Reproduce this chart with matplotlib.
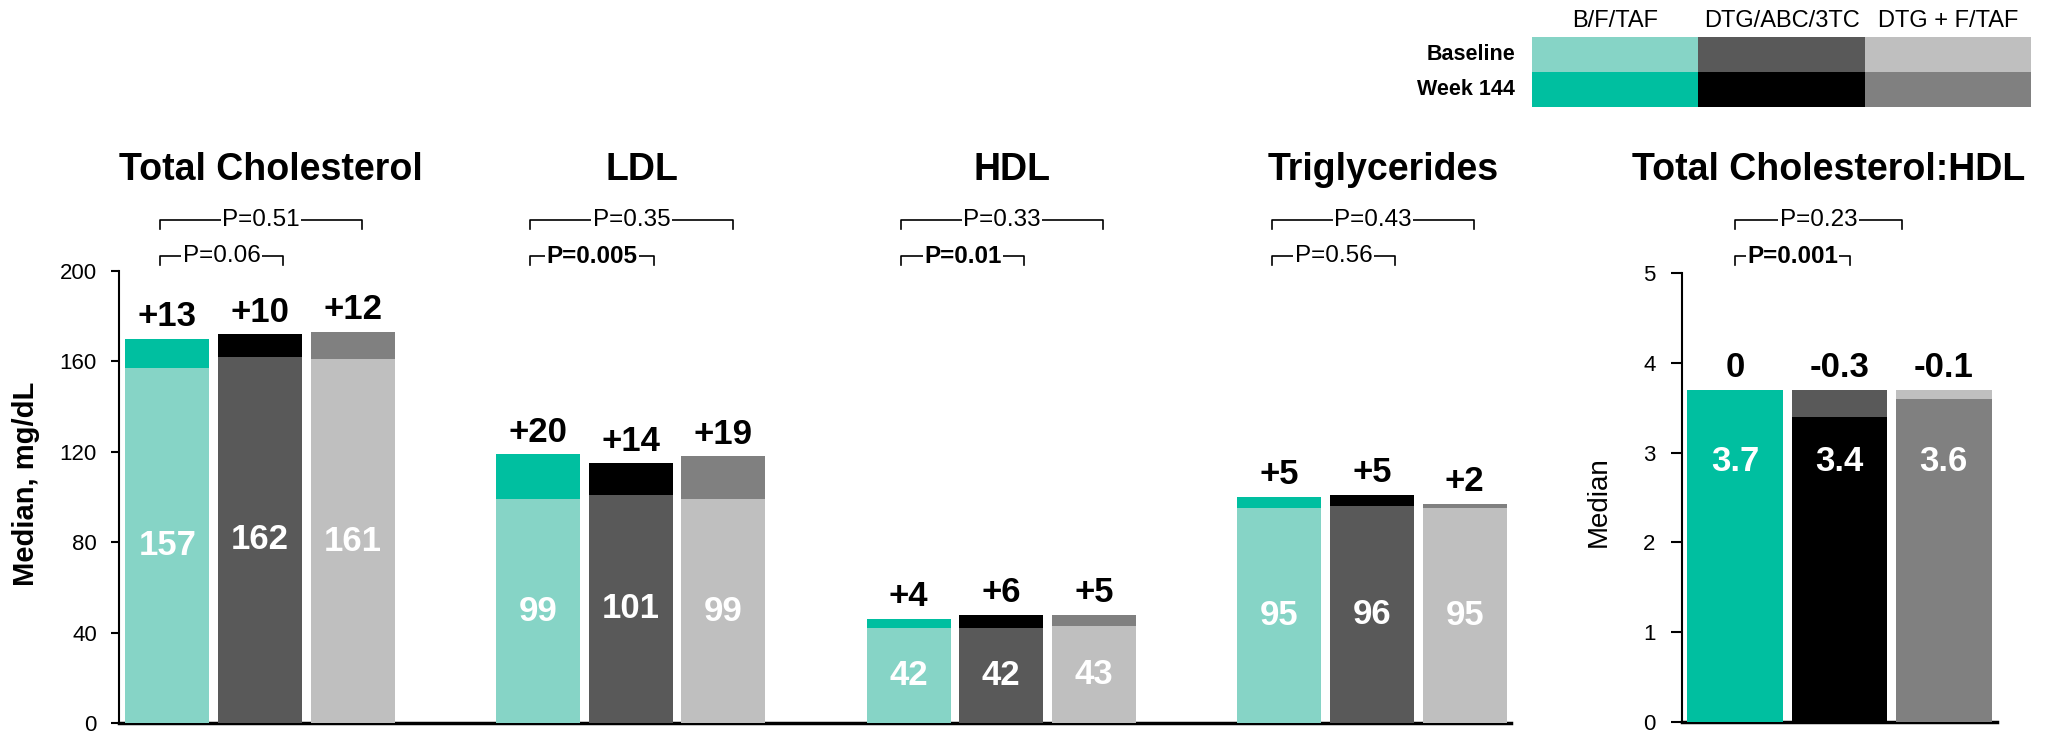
import numpy as np
import matplotlib
matplotlib.use("Agg")
import matplotlib.pyplot as plt
from matplotlib.patches import Rectangle
from matplotlib import transforms

plt.rcParams['font.family'] = ['Liberation Sans', 'DejaVu Sans']

# Data
regimens = ["B/F/TAF", "DTG/ABC/3TC", "DTG + F/TAF"]
rows = ["Baseline", "Week 144"]
base_colors = ["#86D4C6", "#595959", "#BFBFBF"]
wk_colors = ["#00BFA0", "#000000", "#808080"]

lipids = ["Total Cholesterol", "LDL", "HDL", "Triglycerides"]
baseline = [[157, 162, 161], [99, 101, 99], [42, 42, 43], [95, 96, 95]]
change = [[13, 10, 12], [20, 14, 19], [4, 6, 5], [5, 5, 2]]
p_wide = ["P=0.51", "P=0.35", "P=0.33", "P=0.43"]
p_narrow = ["P=0.06", "P=0.005", "P=0.01", "P=0.56"]
p_narrow_bold = [False, True, True, False]

ratio_title = "Total Cholesterol:HDL"
ratio_baseline = [3.7, 3.7, 3.7]
ratio_change = [0, -0.3, -0.1]
ratio_p_wide = "P=0.23"
ratio_p_narrow = "P=0.001"
ratio_p_narrow_bold = True

fig = plt.figure(figsize=(20.48, 7.33), dpi=100)
ax = fig.add_axes([119 / 2048, 10 / 733, 1392 / 2048, 452 / 733])
ax2 = fig.add_axes([1682 / 2048, 11 / 733, 315 / 2048, 449 / 733])

Y_TITLE = 1 - 170 / 733
Y_WIDE = 1 - 220 / 733
Y_NARROW = 1 - 256 / 733
TICK = 9 / 733


def draw_bars(a, xs, base, wk, width):
    for x, b, w, cb, cw in zip(xs, base, wk, base_colors, wk_colors):
        wk_on_top = w <= b
        a.bar(x, b, width, color=cb, zorder=2 if wk_on_top else 3)
        a.bar(x, w, width, color=cw, zorder=3 if wk_on_top else 2)


def top_label(a, x, y, txt):
    a.annotate(txt, (x, y), xytext=(0, 4), textcoords='offset points',
               ha='center', va='bottom', fontsize=25, fontweight='bold')


def bracket(a, x0, x1, yfig, text, bold):
    tr = transforms.blended_transform_factory(a.transData, fig.transFigure)
    a.plot([x0, x0, x1, x1], [yfig - TICK, yfig, yfig, yfig - TICK],
           transform=tr, color='black', lw=1.2, clip_on=False)
    a.text((x0 + x1) / 2, yfig, text, transform=tr, ha='center', va='center',
           fontsize=17.5, fontweight='bold' if bold else 'normal',
           bbox=dict(facecolor='white', edgecolor='none', pad=1), clip_on=False)


# Left panel: lipids in mg/dL
for g, name in enumerate(lipids):
    xs = np.array([-1, 0, 1]) + 4 * g
    base = baseline[g]
    wk = [b + c for b, c in zip(base, change[g])]
    draw_bars(ax, xs, base, wk, 0.906)
    for x, b, w, c in zip(xs, base, wk, change[g]):
        top_label(ax, x, max(b, w), f"+{c}" if c > 0 else str(c))
        ax.text(x, b / 2, str(b), color='white', fontsize=25, fontweight='bold',
                ha='center', va='center', zorder=5)
    tr = transforms.blended_transform_factory(ax.transData, fig.transFigure)
    ax.text(4 * g + 0.12, Y_TITLE, name, transform=tr, ha='center', va='center',
            fontsize=27, fontweight='bold')
    bracket(ax, xs[0] - 0.08, xs[2] + 0.1, Y_WIDE, p_wide[g], False)
    bracket(ax, xs[0] - 0.08, xs[1] + 0.25, Y_NARROW, p_narrow[g], p_narrow_bold[g])

ax.set_xlim(-1.52, 13.5)
ax.set_ylim(0, 200)
ax.set_yticks([0, 40, 80, 120, 160, 200])
ax.set_xticks([])
ax.tick_params(axis='y', labelsize=16, length=6, width=1.5, pad=10)
ax.set_ylabel("Median, mg/dL", fontsize=21, fontweight='bold')
ax.yaxis.set_label_coords(-0.057, 0.53)

# Right panel: ratio
xs = np.arange(3)
wk = [round(b + c, 1) for b, c in zip(ratio_baseline, ratio_change)]
draw_bars(ax2, xs, ratio_baseline, wk, 0.92)
for x, b, w, c in zip(xs, ratio_baseline, wk, ratio_change):
    top_label(ax2, x, max(b, w), "0" if c == 0 else f"{c:.1f}")
    ax2.text(x, 2.9, f"{w:.1f}", color='white', fontsize=25, fontweight='bold',
             ha='center', va='center', zorder=5)
tr2 = transforms.blended_transform_factory(ax2.transData, fig.transFigure)
ax2.text(0.9, Y_TITLE, ratio_title, transform=tr2, ha='center', va='center',
         fontsize=27, fontweight='bold')
bracket(ax2, 0, 1.6, Y_WIDE, ratio_p_wide, False)
bracket(ax2, 0, 1.1, Y_NARROW, ratio_p_narrow, ratio_p_narrow_bold)

ax2.set_xlim(-0.51, 2.51)
ax2.set_ylim(0, 5)
ax2.set_yticks(range(6))
ax2.set_xticks([])
ax2.tick_params(axis='y', labelsize=16, length=8, width=1.5, pad=11)
ax2.set_ylabel("Median", fontsize=20)
ax2.yaxis.set_label_coords(-0.222, 0.49)

for a in (ax, ax2):
    a.spines['top'].set_visible(False)
    a.spines['right'].set_visible(False)
    a.spines['left'].set_linewidth(1.5)
    a.spines['bottom'].set_linewidth(2.5)

# Colour key at top right
leg = fig.add_axes([1532 / 2048, 1 - 107 / 733, 499 / 2048, 70 / 733])
leg.set_xlim(0, 3)
leg.set_ylim(0, 2)
leg.axis('off')
for i, reg in enumerate(regimens):
    leg.add_patch(Rectangle((i, 1), 1, 1, color=base_colors[i], lw=0))
    leg.add_patch(Rectangle((i, 0), 1, 1, color=wk_colors[i], lw=0))
    leg.text(i + 0.5, 2.45, reg, ha='center', va='center', fontsize=17,
             clip_on=False)
for j, r in enumerate(rows):
    leg.text(-0.1, 1.5 - j, r, ha='right', va='center', fontsize=15.5,
             fontweight='bold', clip_on=False)

fig.savefig("out.png", dpi=100)
